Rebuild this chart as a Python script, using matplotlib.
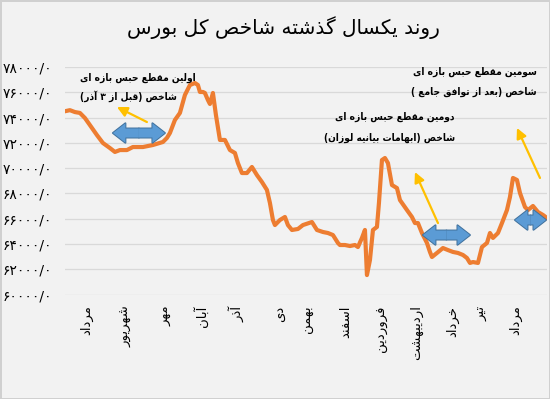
import matplotlib
matplotlib.use("Agg")
import matplotlib.pyplot as plt
from matplotlib.patches import FancyArrowPatch

# ---------------- data ----------------
title_fa = "روند یکسال گذشته شاخص کل بورس"
month_labels = ["مرداد", "شهریور", "مهر", "آبان", "آذر", "دی", "بهمن", "اسفند",
                "فروردین", "اردیبهشت", "خرداد", "تیر", "مرداد"]
month_pos = [22, 61, 101, 136, 172, 215, 243, 281, 317, 352, 388, 417, 451]

day_idx = [1, 5, 10, 15, 20, 25, 32, 38, 45, 50, 55, 62, 68, 78, 88, 98, 102, 105,
           110, 115, 120, 125, 130, 133, 135, 138, 140, 143, 145, 148, 151, 155,
           160, 165, 170, 173, 177, 182, 187, 192, 197, 202, 205, 208, 210, 215,
           220, 223, 227, 233, 238, 247, 252, 258, 263, 268, 273, 275, 280, 285,
           290, 293, 297, 300, 302, 305, 308, 312, 314, 317, 320, 323, 327, 332,
           335, 342, 347, 350, 353, 357, 362, 365, 367, 372, 378, 383, 388, 393,
           398, 402, 405, 408, 413, 417, 422, 425, 428, 433, 437, 442, 445, 448,
           452, 455, 460, 463, 468, 473, 478, 482]
index_vals = [74530, 74600, 74450, 74380, 73980, 73420, 72630, 72000, 71600, 71290,
              71440, 71440, 71680, 71680, 71840, 72080, 72400, 72790, 73820, 74380,
              75800, 76590, 76750, 76590, 76040, 76040, 75960, 75400, 75090, 75960,
              74220, 72240, 72240, 71440, 71210, 70410, 69620, 69620, 70100, 69460,
              68910, 68280, 67250, 65900, 65500, 65900, 66140, 65500, 65110, 65190,
              65500, 65740, 65110, 64950, 64870, 64710, 64080, 63920, 63920, 63840,
              63920, 63760, 64480, 65110, 61540, 62730, 65110, 65350, 67250, 70650,
              70810, 70410, 68670, 68430, 67480, 66690, 66140, 65660, 65660, 64870,
              64080, 63370, 62970, 63290, 63680, 63520, 63370, 63290, 63130, 62890,
              62500, 62570, 62500, 63760, 64080, 64870, 64480, 64870, 65660, 66690,
              67720, 69230, 69070, 68040, 66930, 66690, 67010, 66530, 66300, 66060]

y_ticks = [60000, 62000, 64000, 66000, 68000, 70000, 72000, 74000, 76000, 78000]

note1 = ["اولین مقطع حبس بازه ای", "شاخص (قبل از ۳ آذر)"]
note2 = ["دومین مقطع حبس بازه ای", "شاخص (ابهامات بیانیه لوزان)"]
note3 = ["سومین مقطع حبس بازه ای", "شاخص (بعد از توافق جامع )"]

# ---------------- minimal Persian shaping ----------------
DUAL = {'ب': 0xFE8F, 'ت': 0xFE95, 'ث': 0xFE99, 'ج': 0xFE9D, 'ح': 0xFEA1, 'خ': 0xFEA5,
        'س': 0xFEB1, 'ش': 0xFEB5, 'ص': 0xFEB9, 'ض': 0xFEBD, 'ط': 0xFEC1, 'ظ': 0xFEC5,
        'ع': 0xFEC9, 'غ': 0xFECD, 'ف': 0xFED1, 'ق': 0xFED5, 'ل': 0xFEDD, 'م': 0xFEE1,
        'ن': 0xFEE5, 'ه': 0xFEE9, 'ی': 0xFBFC, 'ک': 0xFB8E, 'گ': 0xFB92, 'پ': 0xFB56,
        'چ': 0xFB7A, 'ي': 0xFEF1}
RIGHT = {'ا': 0xFE8D, 'آ': 0xFE81, 'د': 0xFEA9, 'ذ': 0xFEAB, 'ر': 0xFEAD, 'ز': 0xFEAF,
         'ژ': 0xFB8A, 'و': 0xFEED, 'ة': 0xFE93}
MIRROR = {'(': ')', ')': '('}


def shape(text):
    out = []
    n = len(text)
    i = 0
    while i < n:
        c = text[i]
        prev = text[i - 1] if i > 0 else ''
        prev_j = prev in DUAL
        if c == 'ل' and i + 1 < n and text[i + 1] in ('ا', 'آ'):
            base = 0xFEFB if text[i + 1] == 'ا' else 0xFEF5
            out.append(chr(base + (1 if prev_j else 0)))
            i += 2
            continue
        nxt = text[i + 1] if i + 1 < n else ''
        if c in DUAL:
            nj = nxt in DUAL or nxt in RIGHT
            b = DUAL[c]
            if prev_j and nj:
                out.append(chr(b + 3))
            elif prev_j:
                out.append(chr(b + 1))
            elif nj:
                out.append(chr(b + 2))
            else:
                out.append(chr(b))
        elif c in RIGHT:
            out.append(chr(RIGHT[c] + (1 if prev_j else 0)))
        else:
            out.append(MIRROR.get(c, c))
        i += 1
    return ''.join(reversed(out))


FA_DIG = str.maketrans('0123456789', '۰۱۲۳۴۵۶۷۸۹')

# ---------------- figure ----------------
plt.rcParams['font.family'] = ['DejaVu Sans']
BG = '#f2f2f2'
fig = plt.figure(figsize=(5.5, 3.99), dpi=100, facecolor=BG)
ax = fig.add_axes([0.118, 0.2619, 0.8765, 0.5696])
ax.set_facecolor(BG)

ax.plot(day_idx, index_vals, color='#ED7D31', lw=3.0, solid_joinstyle='round',
        zorder=3)

ax.set_xlim(0, 482)
ax.set_ylim(60000, 78000)
ax.set_yticks(y_ticks)
ax.set_yticklabels([(str(v) + '/0').translate(FA_DIG) for v in y_ticks],
                   fontsize=10)
ax.set_xticks(month_pos)
ax.set_xticklabels([shape(m) for m in month_labels], rotation=90, fontsize=9.5)
ax.tick_params(axis='both', length=0)
ax.tick_params(axis='y', pad=9)
ax.tick_params(axis='x', pad=8)
ax.grid(axis='y', color='#d9d9d9', lw=0.9)
ax.set_axisbelow(True)
for s in ax.spines.values():
    s.set_visible(False)

fig.text(0.515, 0.93, shape(title_fa), ha='center', va='center', fontsize=14.5)

# annotations text
def notes(lines, x, ys, ha):
    for line, y in zip(lines, ys):
        ax.text(x, y, shape(line), ha=ha, va='center', fontsize=7.3,
                fontweight='bold', fontstretch='condensed', color='black',
                zorder=5)

notes(note1, 15, [77150, 75720], 'left')
notes(note2, 390, [74060, 72400], 'right')
notes(note3, 472, [77620, 76040], 'right')

# yellow arrows
for tail, head in [((82, 73660), (52, 74850)),
                   ((373, 65660), (350, 69700)),
                   ((475, 69230), (452, 73190))]:
    ax.annotate('', xy=head, xytext=tail,
                arrowprops=dict(arrowstyle='-|>,head_length=0.6,head_width=0.3',
                                color='#FFC000', lw=1.6, shrinkA=0, shrinkB=0),
                zorder=4)

# blue double block arrows
def block_arrow(x0, x1, y):
    xm = (x0 + x1) / 2
    style = 'simple,head_length=0.9,head_width=1.4,tail_width=0.65'
    for lw, ec in [(1.4, '#41719C'), (0, 'none')]:
        for end in (x0, x1):
            p = FancyArrowPatch((xm, y), (end, y), arrowstyle=style,
                                mutation_scale=10, fc='#5B9BD5', ec=ec, lw=lw,
                                shrinkA=0, shrinkB=0, zorder=4)
            ax.add_patch(p)

block_arrow(48, 100, 72790)
block_arrow(358, 405, 64710)
block_arrow(450, 481, 65900)

fig.patch.set_edgecolor('#d0d0d0')
fig.patch.set_linewidth(1.0)
fig.savefig('out.png', dpi=100, facecolor=BG, edgecolor=fig.patch.get_edgecolor())
